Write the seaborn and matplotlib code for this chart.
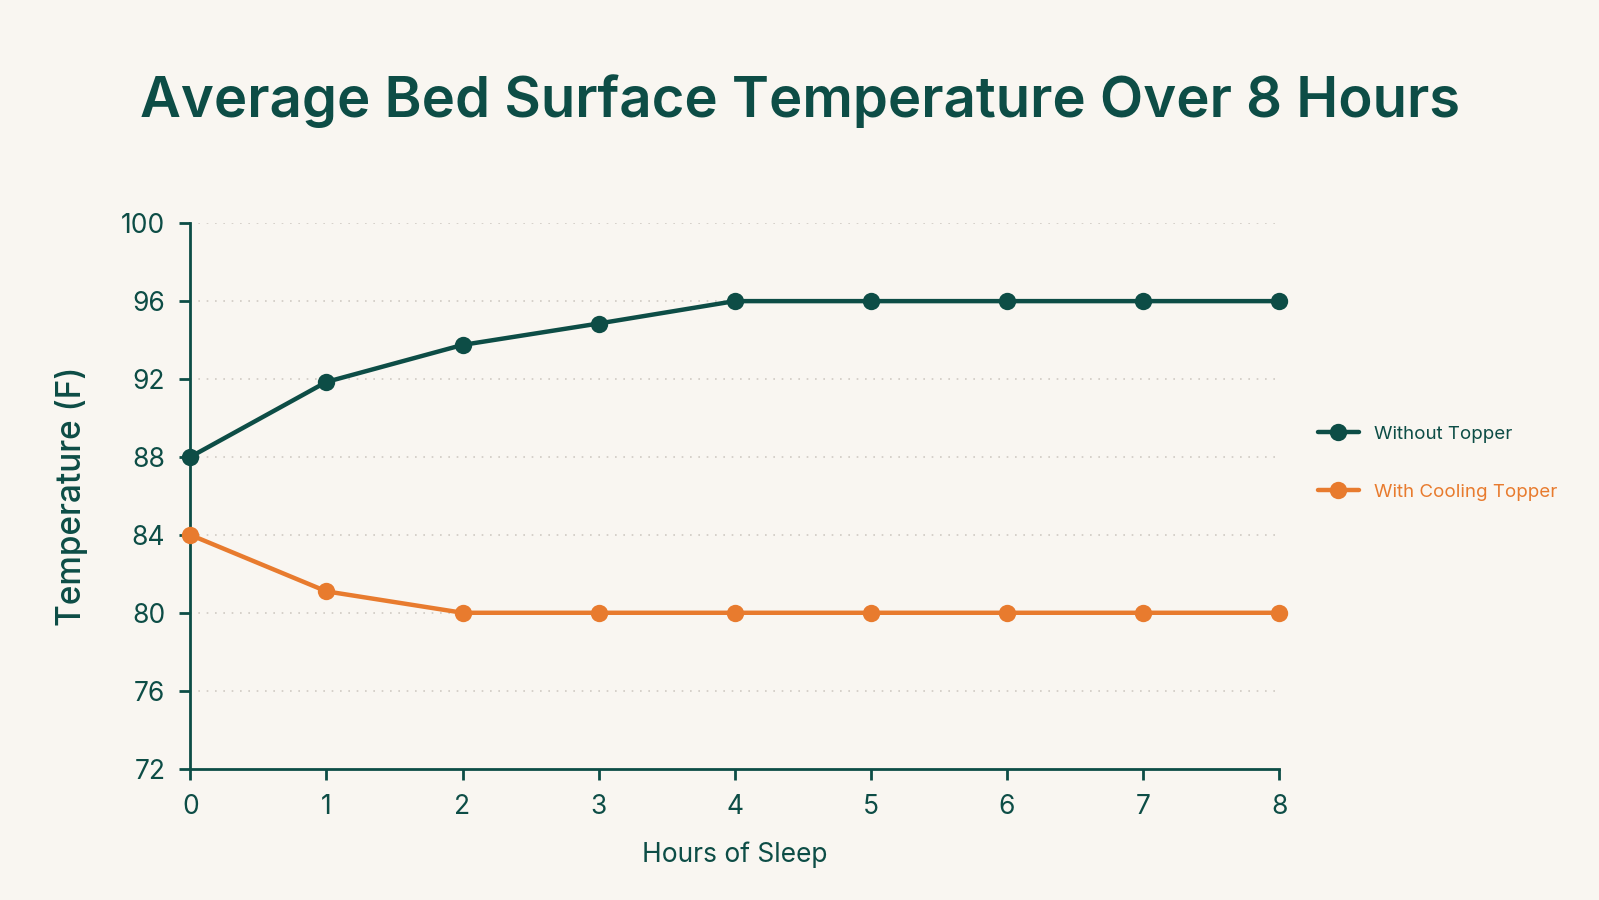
import pandas as pd
import matplotlib
matplotlib.use("Agg")
from matplotlib import pyplot as plt
import seaborn as sns

# Data
hours = [0, 1, 2, 3, 4, 5, 6, 7, 8]
without_topper = [88, 91.85, 93.75, 94.85, 96, 96, 96, 96, 96]
with_cooling = [84, 81.1, 80, 80, 80, 80, 80, 80, 80]
series_names = ["Without Topper", "With Cooling Topper"]
y_ticks = [72, 76, 80, 84, 88, 92, 96, 100]

teal = "#0d4d46"
orange = "#e87b2e"
bg = "#f9f6f1"

df = pd.DataFrame({
    "Hours": hours * 2,
    "Temp": without_topper + with_cooling,
    "Series": [series_names[0]] * len(hours) + [series_names[1]] * len(hours),
})

sns.set_style("white")
plt.rcParams["font.family"] = ["Inter", "DejaVu Sans"]

fig = plt.figure(figsize=(15.99, 9), dpi=100, facecolor=bg)
ax = fig.add_axes([0.119, 0.146, 0.681, 0.606])
ax.set_facecolor(bg)

sns.lineplot(data=df, x="Hours", y="Temp", hue="Series",
             palette={series_names[0]: teal, series_names[1]: orange},
             marker="o", markersize=12.5, markeredgewidth=0, linewidth=3.2,
             ax=ax, zorder=3)
for ln in ax.lines:
    ln.set_clip_on(False)

ax.set_xlim(0, 8)
ax.set_ylim(72, 100)
ax.set_xticks(hours)
ax.set_yticks(y_ticks)
for t in y_ticks[1:]:
    ax.axhline(t, color="#cfcac3", linestyle=(0, (1, 4)), linewidth=1.2, zorder=1)

for s in ["top", "right"]:
    ax.spines[s].set_visible(False)
for s in ["left", "bottom"]:
    ax.spines[s].set_color(teal)
    ax.spines[s].set_linewidth(2)
ax.tick_params(axis="both", colors=teal, labelsize=19, length=8, width=2,
               direction="out", pad=10, bottom=True, left=True)
for lab in ax.get_xticklabels() + ax.get_yticklabels():
    lab.set_color(teal)

ax.set_xlabel("Hours of Sleep", fontsize=19, color=teal, labelpad=16)
ax.set_ylabel("Temperature (F)", fontsize=24, color=teal, labelpad=24,
              fontweight="medium")

fig.suptitle("Average Bed Surface Temperature Over 8 Hours", x=0.50, y=0.918,
             fontsize=40.5, fontweight="semibold", color=teal)

leg = ax.legend(loc="center left", bbox_to_anchor=(1.02, 0.56), frameon=False,
                fontsize=13.5, handlelength=2.2, labelspacing=2.2)
for txt, c in zip(leg.get_texts(), [teal, orange]):
    txt.set_color(c)

fig.savefig("out.png", dpi=100, facecolor=bg)
